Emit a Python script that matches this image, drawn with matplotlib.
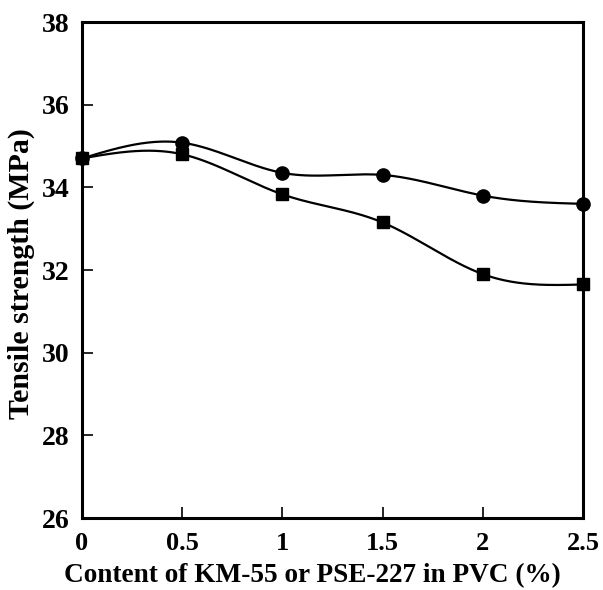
import numpy as np
import matplotlib
matplotlib.use("Agg")
import matplotlib.pyplot as plt

content = [0, 0.5, 1, 1.5, 2, 2.5]
strength_circle = [34.7, 35.08, 34.35, 34.3, 33.8, 33.6]
strength_square = [34.7, 34.8, 33.83, 33.15, 31.9, 31.65]

x_ticks = [0, 0.5, 1, 1.5, 2, 2.5]
x_tick_labels = ["0", "0.5", "1", "1.5", "2", "2.5"]
y_ticks = [26, 28, 30, 32, 34, 36, 38]


def natural_spline(x, y, n=300):
    """Smooth curve through the points (natural cubic spline)."""
    x = np.asarray(x, float)
    y = np.asarray(y, float)
    m = len(x)
    h = np.diff(x)
    A = np.zeros((m, m))
    b = np.zeros(m)
    A[0, 0] = A[-1, -1] = 1
    for i in range(1, m - 1):
        A[i, i - 1] = h[i - 1]
        A[i, i] = 2 * (h[i - 1] + h[i])
        A[i, i + 1] = h[i]
        b[i] = 6 * ((y[i + 1] - y[i]) / h[i] - (y[i] - y[i - 1]) / h[i - 1])
    M = np.linalg.solve(A, b)
    xs = np.linspace(x[0], x[-1], n)
    idx = np.clip(np.searchsorted(x, xs) - 1, 0, m - 2)
    x0, x1 = x[idx], x[idx + 1]
    hh = x1 - x0
    t0, t1 = x1 - xs, xs - x0
    ys = (M[idx] * t0 ** 3 + M[idx + 1] * t1 ** 3) / (6 * hh) \
        + (y[idx] / hh - M[idx] * hh / 6) * t0 \
        + (y[idx + 1] / hh - M[idx + 1] * hh / 6) * t1
    return xs, ys


plt.rcParams["font.family"] = ["Liberation Serif", "DejaVu Serif"]
plt.rcParams["font.weight"] = "bold"

fig = plt.figure(figsize=(6.03, 5.90), dpi=100)
ax = fig.add_axes([82 / 603, 1 - 518 / 590, (583 - 82) / 603, (518 - 22) / 590])

for ys, marker, ms in [(strength_circle, "o", 9.5), (strength_square, "s", 9)]:
    sx, sy = natural_spline(content, ys)
    ax.plot(sx, sy, color="black", lw=1.6, zorder=2, clip_on=False)
    ax.plot(content, ys, linestyle="none", marker=marker, ms=ms,
            color="black", zorder=3, clip_on=False)

ax.set_xlim(0, 2.5)
ax.set_ylim(26, 38)
ax.set_xticks(x_ticks)
ax.set_xticklabels(x_tick_labels)
ax.set_yticks(y_ticks)

for s in ax.spines.values():
    s.set_linewidth(2.2)
ax.tick_params(direction="in", length=8, width=1.2, labelsize=19)
ax.tick_params(axis="x", pad=10)
ax.tick_params(axis="y", pad=9, labelsize=20)
for lab in ax.get_xticklabels() + ax.get_yticklabels():
    lab.set_fontweight("bold")

ax.set_xlabel("Content of KM-55 or PSE-227 in PVC (%)", fontsize=19.6,
              fontweight="bold", labelpad=6)
ax.xaxis.label.set_x(0.459)
ax.set_ylabel("Tensile strength (MPa)", fontsize=21.5, fontweight="bold",
              labelpad=5)
ax.yaxis.label.set_y(0.492)

fig.savefig("out.png", dpi=100)
